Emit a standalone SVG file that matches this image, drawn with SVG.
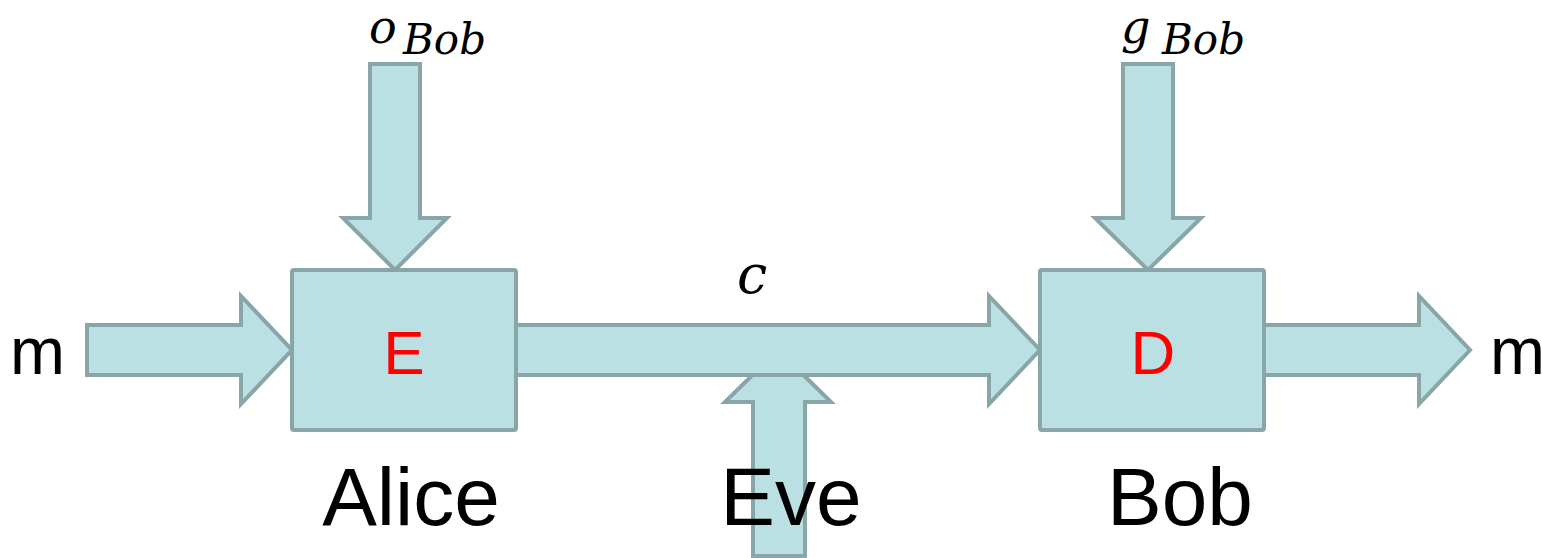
<svg xmlns="http://www.w3.org/2000/svg" width="1542" height="558" viewBox="0 0 1542 558">
  <style>
    .arrow { fill: #bbe0e3; stroke: #88a5a7; stroke-width: 4; stroke-linejoin: miter; }
    .box { fill: #bbe0e3; stroke: #88a5a7; stroke-width: 4; }
    .sans { font-family: "Liberation Sans", Arial, sans-serif; fill: #000; }
    .op { font-family: "Liberation Sans", Arial, sans-serif; fill: #ff0000; font-size: 62px; text-anchor: middle; }
    .name { font-size: 82px; text-anchor: middle; }
    .io { font-size: 66px; }
    .math { font-family: "DejaVu Serif", "Liberation Serif", serif; font-style: italic; fill: #000; }
  </style>
  <rect width="1542" height="558" fill="#ffffff"/>

  <!-- block arrows -->
  <g id="connectors">
    <!-- Eve taps the channel from below (sits behind the channel arrow) -->
    <polygon class="arrow" points="778,350 831,402 805,402 805,556 753,556 753,402 725,402"/>
    <!-- m into Alice -->
    <polygon class="arrow" points="87,325 241,325 241,296 292,350 241,404 241,375 87,375"/>
    <!-- ciphertext channel -->
    <polygon class="arrow" points="516,325 989,325 989,296 1040,350 989,404 989,375 516,375"/>
    <!-- m out of Bob -->
    <polygon class="arrow" points="1264,325 1419,325 1419,296 1470,350 1419,404 1419,375 1264,375"/>
    <!-- o_Bob into Alice -->
    <polygon class="arrow" points="370,64 420,64 420,218 447,218 395,270 343,218 370,218"/>
    <!-- g_Bob into Bob -->
    <polygon class="arrow" points="1123,64 1173,64 1173,218 1201,218 1148,270 1095,218 1123,218"/>
  </g>

  <g id="alice">
    <rect class="box" x="292" y="270" width="224" height="160" rx="2"/>
    <text class="op" x="404" y="374">E</text>
    <text class="sans name" x="411" y="525">Alice</text>
  </g>

  <g id="bob">
    <rect class="box" x="1040" y="270" width="224" height="160" rx="2"/>
    <text class="op" x="1153" y="374">D</text>
    <text class="sans name" x="1180" y="525">Bob</text>
  </g>

  <g id="eve">
    <text class="sans name" x="791" y="525">Eve</text>
  </g>

  <g id="m-in">
    <text class="sans io" x="10" y="374">m</text>
  </g>

  <g id="m-out">
    <text class="sans io" x="1490" y="374">m</text>
  </g>

  <g id="o-bob">
    <text class="math" x="369" y="43" font-size="46">o</text>
    <text class="math" x="403" y="54" font-size="42">Bob</text>
  </g>

  <g id="g-bob">
    <text class="math" x="1121" y="43" font-size="46">g</text>
    <text class="math" x="1162" y="54" font-size="42">Bob</text>
  </g>

  <g id="c-label">
    <text class="math" x="737" y="293" font-size="54">c</text>
  </g>
</svg>
